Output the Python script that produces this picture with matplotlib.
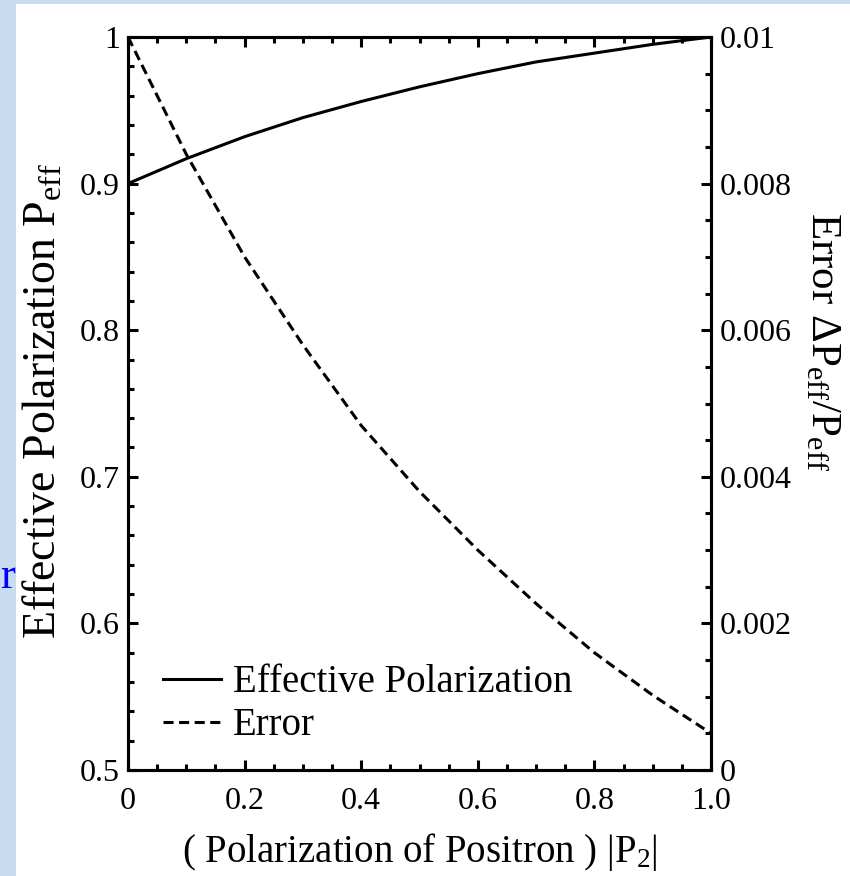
import matplotlib
matplotlib.use("Agg")
import matplotlib.pyplot as plt
from matplotlib.patches import Rectangle
from matplotlib.ticker import MultipleLocator
import numpy as np

# values
p2 = [0.0, 0.1, 0.2, 0.3, 0.4, 0.5, 0.6, 0.7, 0.8, 0.9, 1.0]
p_eff = [0.900, 0.917, 0.932, 0.945, 0.956, 0.966, 0.975, 0.983, 0.989, 0.995, 1.000]
error = [0.0100, 0.0084, 0.0070, 0.0058, 0.0047, 0.0038, 0.0030, 0.00227, 0.0016, 0.00102, 0.0005]

left_ticks = [0.5, 0.6, 0.7, 0.8, 0.9, 1.0]
left_labels = ["0.5", "0.6", "0.7", "0.8", "0.9", "1"]
right_ticks = [0, 0.002, 0.004, 0.006, 0.008, 0.01]
right_labels = ["0", "0.002", "0.004", "0.006", "0.008", "0.01"]
x_ticks = [0, 0.2, 0.4, 0.6, 0.8, 1.0]
x_labels = ["0", "0.2", "0.4", "0.6", "0.8", "1.0"]

plt.rcParams['font.family'] = ['Liberation Serif', 'DejaVu Serif']
plt.rcParams['mathtext.fontset'] = 'custom'
plt.rcParams['mathtext.rm'] = 'Liberation Serif'
plt.rcParams['mathtext.it'] = 'Liberation Serif:italic'

W, H = 850, 876
fig = plt.figure(figsize=(W / 100, H / 100), dpi=100)
fig.patch.set_facecolor('#c8dbef')
# white slide area behind everything
fig.patches.append(Rectangle((16 / W, 0), 1, 1 - 4 / H, transform=fig.transFigure,
                             facecolor='white', edgecolor='none', zorder=-10))
# stray blue letter from the slide text
fig.text(0.0, 1 - 588 / H, "r", color='#0000ff', fontsize=32, ha='left', va='baseline')

ax = fig.add_axes([128 / W, 1 - 770 / H, 583 / W, 733 / H])
ax.patch.set_alpha(0)
line1, = ax.plot(p2, p_eff, color='black', lw=2.2, label='Effective Polarization')
ax.set_xlim(0, 1)
ax.set_ylim(0.5, 1.0)
ax.set_xticks(x_ticks)
ax.set_xticklabels(x_labels)
ax.set_yticks(left_ticks)
ax.set_yticklabels(left_labels)
ax.xaxis.set_minor_locator(MultipleLocator(0.05))
ax.yaxis.set_minor_locator(MultipleLocator(0.02))
ax.tick_params(which='both', direction='in', top=True, right=False, width=2.2, labelsize=23, pad=6)
ax.tick_params(axis='x', which='both', pad=12)
ax.tick_params(which='major', length=7)
ax.tick_params(which='minor', length=4)

ax2 = ax.twinx()
line2, = ax2.plot(p2, error, color='black', lw=2.2, ls=(0, (3.3, 1.8)), label='Error')
ax2.set_ylim(0, 0.01)
ax2.set_yticks(right_ticks)
ax2.set_yticklabels(right_labels)
ax2.yaxis.set_minor_locator(MultipleLocator(0.0005))
ax2.tick_params(which='both', direction='in', width=2.2, labelsize=23, pad=6)
ax2.tick_params(which='major', length=7)
ax2.tick_params(which='minor', length=4)

for a in (ax, ax2):
    for s in a.spines.values():
        s.set_linewidth(2.2)

ax2.legend(handles=[line1, line2], loc='upper left', bbox_to_anchor=(0.06, 0.144),
           frameon=False, fontsize=28, handlelength=1.5, handletextpad=0.3,
           labelspacing=0.15, borderpad=0, borderaxespad=0)

fig.text(44 / W, 1 - 401 / H, r"Effective Polarization $\mathrm{P_{eff}}$", rotation=90,
         fontsize=33, ha='center', va='center')
fig.text(822 / W, 1 - 342 / H, r"Error $\mathrm{\Delta P_{eff}/P_{eff}}$", rotation=270,
         fontsize=31, ha='center', va='center')
fig.text(420 / W, 1 - 852 / H, r"( Polarization of Positron ) $\mathrm{|P_2|}$",
         fontsize=28, ha='center', va='center')

fig.savefig("out.png", dpi=100, facecolor=fig.get_facecolor())
